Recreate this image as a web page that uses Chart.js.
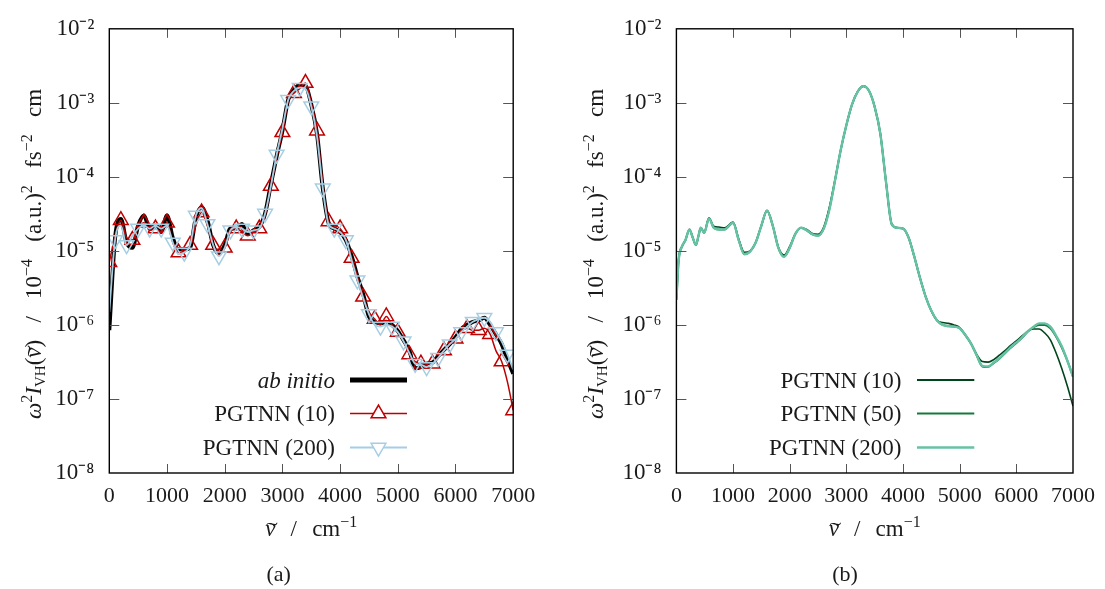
<!DOCTYPE html>
<html><head><meta charset="utf-8">
<script src="https://cdn.jsdelivr.net/npm/chart.js@4.4.1/dist/chart.umd.min.js"></script>
<style>
html,body{margin:0;padding:0;background:#fff;overflow:hidden}
#ca{position:absolute;left:0;top:0}
#cb{position:absolute;left:552px;top:0}
</style></head><body>
<canvas id="ca" width="552" height="589"></canvas>
<canvas id="cb" width="553" height="589"></canvas>
<script>
// ---------- data ----------
const xTicks = [0, 1000, 2000, 3000, 4000, 5000, 6000, 7000];
const xTickLabels = ['0', '1000', '2000', '3000', '4000', '5000', '6000', '7000'];
const yTicks = [1e-8, 1e-7, 1e-6, 1e-5, 1e-4, 1e-3, 1e-2];
const yTickLabels = ['10⁻⁸', '10⁻⁷', '10⁻⁶', '10⁻⁵', '10⁻⁴', '10⁻³', '10⁻²'];

const wavenumbersA = [0,100,200,300,400,500,600,700,800,900,
 1000,1100,1200,1300,1400,1500,1600,1700,1800,1900,
 2000,2100,2200,2300,2400,2500,2600,2700,2800,2900,
 3000,3100,3200,3300,3400,3500,3600,3700,3800,3900,
 4000,4100,4200,4300,4400,4500,4600,4700,4800,4900,
 5000,5100,5200,5300,5400,5500,5600,5700,5800,5900,
 6000,6100,6200,6300,6400,6500,6600,6700,6800,6900,
 7000];

const abInitio = [8.5e-7,1.5e-5,2.7e-5,1.3e-5,1.1e-5,2.2e-5,3.0e-5,2.0e-5,2.2e-5,1.8e-5,
 3.0e-5,1.5e-5,1.05e-5,1.05e-5,1.1e-5,2.8e-5,3.9e-5,2.6e-5,1.2e-5,9.3e-6,
 1.2e-5,2.0e-5,2.0e-5,2.3e-5,1.7e-5,1.9e-5,2.1e-5,3.2e-5,8.0e-5,1.9e-4,
 4.2e-4,1.1e-3,1.5e-3,1.75e-3,1.7e-3,9.5e-4,3.8e-4,7.0e-5,2.4e-5,2.0e-5,
 1.8e-5,1.4e-5,8.5e-6,4.5e-6,2.6e-6,1.3e-6,1.1e-6,1.05e-6,1.1e-6,1.0e-6,
 8.3e-7,6.2e-7,4.5e-7,2.6e-7,2.7e-7,3.0e-7,3.1e-7,3.8e-7,4.6e-7,5.5e-7,
 6.8e-7,8.8e-7,1.0e-6,1.1e-6,1.15e-6,1.25e-6,1.0e-6,7.5e-7,5.5e-7,3.4e-7,
 2.2e-7];

const pgtnn10A = [7.0e-6,1.6e-5,2.6e-5,1.5e-5,1.4e-5,2.0e-5,2.4e-5,1.9e-5,2.0e-5,1.8e-5,
 2.4e-5,1.3e-5,9.5e-6,1.0e-5,1.2e-5,2.2e-5,3.3e-5,2.2e-5,1.2e-5,9.0e-6,
 1.1e-5,1.8e-5,2.0e-5,1.8e-5,1.6e-5,1.8e-5,2.0e-5,3.0e-5,7.5e-5,1.8e-4,
 4.0e-4,1.05e-3,1.35e-3,1.55e-3,1.85e-3,1.0e-3,4.2e-4,8.0e-5,2.5e-5,2.2e-5,
 2.0e-5,1.5e-5,8.0e-6,4.5e-6,2.4e-6,1.5e-6,1.2e-6,1.0e-6,1.3e-6,1.0e-6,
 8.0e-7,6.0e-7,4.0e-7,3.2e-7,3.0e-7,3.0e-7,3.0e-7,3.6e-7,4.5e-7,5.5e-7,
 6.5e-7,8.2e-7,9.0e-7,8.5e-7,8.5e-7,9.0e-7,7.5e-7,4.5e-7,3.2e-7,1.7e-7,
 7.0e-8];

const pgtnn200A = [1.5e-6,1.4e-5,2.2e-5,1.2e-5,1.6e-5,2.0e-5,2.2e-5,2.0e-5,2.2e-5,2.0e-5,
 2.2e-5,1.3e-5,9.0e-6,9.5e-6,1.2e-5,3.0e-5,3.8e-5,2.3e-5,1.2e-5,8.5e-6,
 1.1e-5,1.9e-5,2.1e-5,2.0e-5,1.8e-5,1.9e-5,2.0e-5,3.2e-5,7.5e-5,2.0e-4,
 4.5e-4,1.1e-3,1.45e-3,1.6e-3,1.55e-3,9.0e-4,3.5e-4,7.0e-5,2.3e-5,2.0e-5,
 1.8e-5,1.4e-5,7.5e-6,4.0e-6,2.3e-6,1.4e-6,1.0e-6,9.5e-7,1.0e-6,9.5e-7,
 8.0e-7,6.0e-7,4.2e-7,3.0e-7,2.9e-7,2.7e-7,3.0e-7,3.6e-7,4.5e-7,5.5e-7,
 6.5e-7,8.0e-7,9.5e-7,1.1e-6,1.2e-6,1.25e-6,1.1e-6,8.0e-7,6.0e-7,4.0e-7,
 2.5e-7];

const wavenumbersB = [0,40,100,160,230,290,345,390,430,490,575,660,750,850,1000,
 1100,1200,1300,1400,1500,1600,1700,1800,1900,
 2000,2100,2200,2300,2400,2500,2600,2700,2800,2900,
 3000,3100,3200,3300,3400,3500,3600,3700,3800,3900,
 4000,4100,4200,4300,4400,4500,4600,4700,4800,4900,
 5000,5100,5200,5300,5400,5500,5600,5700,5800,5900,
 6000,6100,6200,6300,6400,6500,6600,6700,6800,6900,
 7000];

const pgtnn10B = [2.2e-6,7.8e-6,1.15e-5,1.4e-5,1.95e-5,1.5e-5,1.2e-5,1.6e-5,2.05e-5,1.78e-5,2.8e-5,2.15e-5,2.1e-5,2.05e-5,2.45e-5,
 1.45e-5,9.6e-6,1.0e-5,1.3e-5,2.2e-5,3.5e-5,2.2e-5,1.12e-5,8.8e-6,
 1.15e-5,1.7e-5,2.05e-5,1.95e-5,1.72e-5,1.68e-5,2.1e-5,3.9e-5,9.2e-5,2.3e-4,
 5.0e-4,9.5e-4,1.42e-3,1.68e-3,1.45e-3,8.8e-4,3.8e-4,8.5e-5,2.3e-5,2.05e-5,
 2.0e-5,1.5e-5,8.3e-6,4.3e-6,2.4e-6,1.55e-6,1.15e-6,1.08e-6,1.05e-6,1.0e-6,
 9.2e-7,7.3e-7,5.6e-7,4.0e-7,3.2e-7,3.15e-7,3.4e-7,3.9e-7,4.5e-7,5.3e-7,
 6.1e-7,7.1e-7,8.2e-7,8.8e-7,8.8e-7,7.8e-7,6.3e-7,4.2e-7,2.6e-7,1.5e-7,
 8.0e-8];

const pgtnn50B = [2.2e-6,7.5e-6,1.15e-5,1.4e-5,1.95e-5,1.5e-5,1.2e-5,1.6e-5,2.05e-5,1.75e-5,2.75e-5,2.05e-5,1.95e-5,1.95e-5,2.4e-5,
 1.4e-5,9.1e-6,9.8e-6,1.3e-5,2.2e-5,3.5e-5,2.2e-5,1.1e-5,8.4e-6,
 1.1e-5,1.7e-5,2.05e-5,1.9e-5,1.68e-5,1.62e-5,2.0e-5,3.7e-5,9.0e-5,2.3e-4,
 5.0e-4,9.5e-4,1.42e-3,1.68e-3,1.45e-3,8.8e-4,3.8e-4,8.5e-5,2.3e-5,2.05e-5,
 2.0e-5,1.5e-5,8.3e-6,4.3e-6,2.4e-6,1.55e-6,1.15e-6,1.0e-6,9.7e-7,9.5e-7,
 9.0e-7,7.3e-7,5.6e-7,3.9e-7,2.75e-7,2.7e-7,3.05e-7,3.5e-7,4.15e-7,4.9e-7,
 5.7e-7,6.7e-7,8.1e-7,9.3e-7,1.0e-6,1.0e-6,9.0e-7,7.0e-7,5.0e-7,3.3e-7,
 2.0e-7];

const pgtnn200B = [2.2e-6,7.5e-6,1.15e-5,1.4e-5,1.95e-5,1.5e-5,1.2e-5,1.6e-5,2.05e-5,1.75e-5,2.75e-5,2.05e-5,1.95e-5,1.95e-5,2.4e-5,
 1.4e-5,9.0e-6,9.8e-6,1.3e-5,2.2e-5,3.5e-5,2.2e-5,1.1e-5,8.3e-6,
 1.1e-5,1.7e-5,2.05e-5,1.9e-5,1.68e-5,1.6e-5,2.0e-5,3.6e-5,9.0e-5,2.3e-4,
 5.0e-4,9.5e-4,1.42e-3,1.68e-3,1.45e-3,8.8e-4,3.8e-4,8.5e-5,2.3e-5,2.05e-5,
 2.0e-5,1.5e-5,8.3e-6,4.3e-6,2.4e-6,1.55e-6,1.15e-6,1.0e-6,9.6e-7,9.5e-7,
 9.0e-7,7.3e-7,5.6e-7,3.9e-7,2.8e-7,2.75e-7,3.1e-7,3.55e-7,4.2e-7,5.0e-7,
 5.8e-7,6.8e-7,8.2e-7,9.4e-7,1.05e-6,1.05e-6,9.5e-7,7.2e-7,5.2e-7,3.3e-7,
 2.0e-7];

const labelsA = ['ab initio', 'PGTNN (10)', 'PGTNN (200)'];
const labelsB = ['PGTNN (10)', 'PGTNN (50)', 'PGTNN (200)'];
const captionA = '(a)';
const captionB = '(b)';

// ---------- styling ----------
const FONT = "'Liberation Serif','Times New Roman',serif";
const RED = '#bf0000', LBLUE = '#a6cee3';
const G10 = '#00441b', G50 = '#137b3a', G200 = '#66c2a4';

function pts(xs, ys){ return xs.map((x,i)=>({x:x, y:ys[i]})); }
function fontOf(p){ return (p.it?'italic ':'') + (p.size||23) + 'px ' + FONT; }
function drawRich(ctx, parts, x, y, align, target){
  let w = 0, ng = 0;
  parts.forEach(p => {
    if (p.gap !== undefined) { p.w = p.gap; ng++; }
    else { ctx.font = fontOf(p); p.w = ctx.measureText(p.t).width; }
    w += p.w;
  });
  const extra = (target && ng) ? Math.max(0, (target - w) / ng) : 0;
  const total = w + extra * ng;
  let cx = align === 'center' ? x - total/2 : (align === 'right' ? x - total : x);
  ctx.textAlign = 'left';
  parts.forEach(p => {
    if (p.gap !== undefined) { cx += p.w + extra; return; }
    ctx.font = fontOf(p);
    ctx.fillText(p.t, cx, y + (p.dy||0));
    if (p.tilde) {
      ctx.save();
      ctx.font = '22px ' + FONT;
      ctx.textAlign = 'center';
      ctx.translate(cx + p.w/2 + 1.5, y + (p.dy||0) + 1);
      ctx.scale(1.6, 1);
      ctx.fillText('˜', 0, 0);
      ctx.restore();
    }
    cx += p.w;
  });
}
const SUP = {size:16, dy:-9};
const yTitleParts = [
  {t:'ω',it:1},{t:'2',...SUP},{t:'I',it:1},{t:'VH',size:15,dy:4},{t:'('},{t:'ν',it:1,tilde:1},{t:')'},
  {gap:4},{t:'/'},{gap:4},{t:'10'},{t:'−4',...SUP},{gap:4},{t:'(a.u.)'},{t:'2',...SUP},
  {gap:4},{t:'fs'},{t:'−2',...SUP},{gap:4},{t:'cm'}
];
const xTitleParts = [{t:'ν',it:1,tilde:1},{gap:5},{t:'/'},{gap:5},{t:'cm'},{t:'−1',...SUP}];

function decor(cfg){
  return {
    id: 'decor',
    afterDraw(chart){
      const ctx = chart.ctx, a = chart.chartArea, sx = chart.scales.x, sy = chart.scales.y;
      ctx.save();
      // inner ticks, mirrored
      ctx.strokeStyle = '#555'; ctx.lineWidth = 1;
      ctx.beginPath();
      xTicks.forEach(v => {
        if (v <= sx.min || v >= sx.max) return;
        const p = Math.round(sx.getPixelForValue(v)) + 0.5;
        ctx.moveTo(p, a.bottom); ctx.lineTo(p, a.bottom - 9);
        ctx.moveTo(p, a.top); ctx.lineTo(p, a.top + 9);
      });
      yTicks.forEach(v => {
        if (v <= sy.min || v >= sy.max) return;
        const p = Math.round(sy.getPixelForValue(v)) + 0.5;
        ctx.moveTo(a.left, p); ctx.lineTo(a.left + 10, p);
        ctx.moveTo(a.right, p); ctx.lineTo(a.right - 10, p);
      });
      ctx.stroke();
      // frame
      ctx.strokeStyle = '#000'; ctx.lineWidth = 1.4;
      ctx.strokeRect(a.left, a.top, a.right - a.left, a.bottom - a.top);
      ctx.fillStyle = '#1a1a1a';
      ctx.textBaseline = 'alphabetic';
      // y title (rotated)
      ctx.save();
      ctx.translate(cfg.yTitleX, (a.top + a.bottom)/2 + 3);
      ctx.rotate(-Math.PI/2);
      drawRich(ctx, yTitleParts, 0, 0, 'center', 330);
      ctx.restore();
      // x title
      drawRich(ctx, xTitleParts, (a.left + a.right)/2, 536, 'center', 92);
      // caption
      ctx.font = '22px ' + FONT; ctx.textAlign = 'center';
      ctx.fillText(cfg.caption, cfg.captionX, 581);
      // legend
      const rows = [380, 413.5, 447.5];
      chart.data.datasets.forEach((ds, i) => {
        const ry = rows[i];
        ctx.font = (ds.italicLabel ? 'italic ' : '') + '23px ' + FONT;
        ctx.textAlign = 'right'; ctx.fillStyle = '#1a1a1a';
        ctx.fillText(ds.label, cfg.legText, ry + 7.5);
        ctx.strokeStyle = ds.borderColor; ctx.lineWidth = ds.legendWidth || ds.borderWidth;
        ctx.beginPath(); ctx.moveTo(cfg.legX0, ry); ctx.lineTo(cfg.legX1, ry); ctx.stroke();
        if (ds.legendMarker) {
          const cx = (cfg.legX0 + cfg.legX1)/2, r = 8.5;
          const rot = ds.pointRotation ? Math.PI : 0;
          ctx.lineWidth = 1.5;
          ctx.beginPath();
          for (let k = 0; k < 3; k++) {
            const ang = rot + k * 2*Math.PI/3;
            const px = cx + Math.sin(ang)*r, py = ry - Math.cos(ang)*r;
            k ? ctx.lineTo(px, py) : ctx.moveTo(px, py);
          }
          ctx.closePath(); ctx.fillStyle = '#fff'; ctx.fill(); ctx.stroke();
        }
      });
      ctx.restore();
    }
  };
}

function baseOptions(yWidth, padRight){
  return {
    responsive: false, animation: false, devicePixelRatio: 1, events: [],
    layout: {padding: {top: 25, right: padRight, bottom: 0, left: 0}},
    plugins: {legend: {display: false}, tooltip: {enabled: false}, title: {display: false}},
    elements: {line: {cubicInterpolationMode: 'monotone'}},
    scales: {
      x: {
        type: 'linear', min: 0, max: 7000,
        afterBuildTicks: s => { s.ticks = xTicks.map(v => ({value: v})); },
        afterFit: s => { s.height = 116; },
        grid: {display: false, drawTicks: false}, border: {display: false},
        ticks: {padding: 10, color: '#1a1a1a', autoSkip: false, maxRotation: 0,
                font: {family: FONT, size: 22}, callback: (v, i) => xTickLabels[i]}
      },
      y: {
        type: 'logarithmic', min: 1e-8, max: 1e-2,
        afterBuildTicks: s => { s.ticks = yTicks.map(v => ({value: v})); },
        afterFit: s => { s.width = yWidth; },
        grid: {display: false, drawTicks: false}, border: {display: false},
        ticks: {padding: 15, color: '#1a1a1a', autoSkip: false,
                font: {family: FONT, size: 23}, callback: (v, i) => yTickLabels[i]}
      }
    }
  };
}

const markEvery = (mod) => (c => (c.dataIndex % 2 === mod ? 8.5 : 0));

new Chart(document.getElementById('ca'), {
  type: 'line',
  data: {
    datasets: [
      {label: labelsA[0], italicLabel: true, data: pts(wavenumbersA, abInitio), borderColor: '#000', borderWidth: 4,
       legendWidth: 5, pointRadius: 0, order: 2},
      {label: labelsA[1], data: pts(wavenumbersA, pgtnn10A), borderColor: RED, borderWidth: 1.5,
       pointStyle: 'triangle', pointRadius: markEvery(0), pointBorderColor: RED, pointBackgroundColor: 'rgba(0,0,0,0)',
       pointBorderWidth: 1.5, legendMarker: true, order: 1},
      {label: labelsA[2], data: pts(wavenumbersA, pgtnn200A), borderColor: LBLUE, borderWidth: 1.8,
       pointStyle: 'triangle', pointRotation: 180, pointRadius: markEvery(1), pointBorderColor: LBLUE,
       pointBackgroundColor: 'rgba(0,0,0,0)', pointBorderWidth: 1.5, legendMarker: true, order: 0}
    ]
  },
  options: baseOptions(109.3, 38.8),
  plugins: [decor({yTitleX: 41, caption: captionA, captionX: 278.6, legText: 335, legX0: 350, legX1: 407})]
});

new Chart(document.getElementById('cb'), {
  type: 'line',
  data: {
    datasets: [
      {label: labelsB[0], data: pts(wavenumbersB, pgtnn10B), borderColor: G10, borderWidth: 1.6, legendWidth: 2, pointRadius: 0, order: 2},
      {label: labelsB[1], data: pts(wavenumbersB, pgtnn50B), borderColor: G50, borderWidth: 2, legendWidth: 2.2, pointRadius: 0, order: 1},
      {label: labelsB[2], data: pts(wavenumbersB, pgtnn200B), borderColor: G200, borderWidth: 2.4, legendWidth: 2.4, pointRadius: 0, order: 0}
    ]
  },
  options: baseOptions(124.4, 25),
  plugins: [decor({yTitleX: 51, caption: captionB, captionX: 293, legText: 349.3, legX0: 365, legX1: 422.3})]
});
</script>
</body></html>
